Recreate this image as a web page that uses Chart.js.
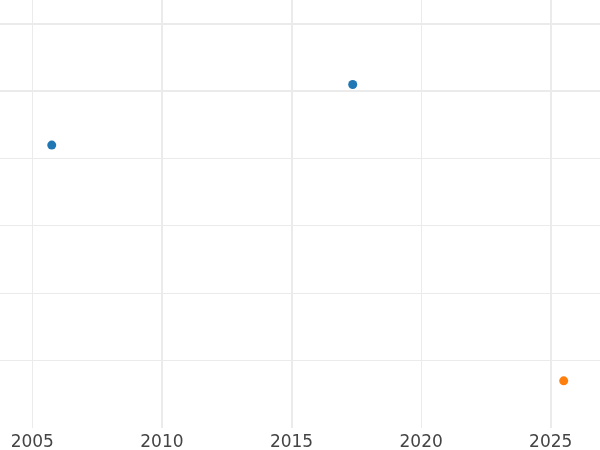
<!DOCTYPE html>
<html>
<head>
<meta charset="utf-8">
<script src="https://cdn.jsdelivr.net/npm/chart.js@4"></script>
<style>
html,body{margin:0;padding:0;background:#fff;}
#wrap{width:600px;height:450px;}
</style>
</head>
<body>
<div id="wrap"><canvas id="c" width="600" height="450"></canvas></div>
<script>
// Data
const seriesAYears = [2005.75, 2017.36];
const seriesAValues = [4.2, 5.1];
const seriesBYears = [2025.5];
const seriesBValues = [0.7];
const xTickYears = [2005, 2010, 2015, 2020, 2025];
const thickX = [2010, 2015, 2025];
const thickY = [5, 6];

const toPoints = (xs, ys) => xs.map((x, i) => ({x: x, y: ys[i]}));

new Chart(document.getElementById('c'), {
  type: 'scatter',
  data: {
    datasets: [
      {data: toPoints(seriesAYears, seriesAValues), backgroundColor: '#1f77b4', borderColor: '#1f77b4', pointRadius: 4.5, pointHoverRadius: 4.5, borderWidth: 0},
      {data: toPoints(seriesBYears, seriesBValues), backgroundColor: '#ff7f0e', borderColor: '#ff7f0e', pointRadius: 4.5, pointHoverRadius: 4.5, borderWidth: 0}
    ]
  },
  options: {
    responsive: false,
    animation: false,
    layout: {padding: 0, autoPadding: false},
    plugins: {legend: {display: false}, tooltip: {enabled: false}},
    scales: {
      x: {
        type: 'linear',
        min: 2003.754,
        max: 2026.9,
        afterBuildTicks: (s) => { s.ticks = xTickYears.map(v => ({value: v})); },
        afterFit: (s) => { s.height = 22; },
        border: {display: false},
        grid: {
          drawTicks: false,
          color: '#ebebeb',
          lineWidth: (ctx) => (ctx.tick && thickX.includes(ctx.tick.value)) ? 2 : 1
        },
        ticks: {
          padding: 4,
          color: '#444444',
          font: {family: 'DejaVu Sans', size: 17},
          callback: (v) => String(v)
        }
      },
      y: {
        type: 'linear',
        min: 0,
        max: 6.354,
        afterFit: (s) => { s.width = 0; },
        border: {display: false},
        grid: {
          drawTicks: false,
          color: (ctx) => (ctx.tick && ctx.tick.value > 0) ? '#ebebeb' : 'rgba(0,0,0,0)',
          lineWidth: (ctx) => (ctx.tick && thickY.includes(ctx.tick.value)) ? 2 : 1
        },
        ticks: {display: false, stepSize: 1, includeBounds: false}
      }
    }
  }
});
</script>
</body>
</html>
